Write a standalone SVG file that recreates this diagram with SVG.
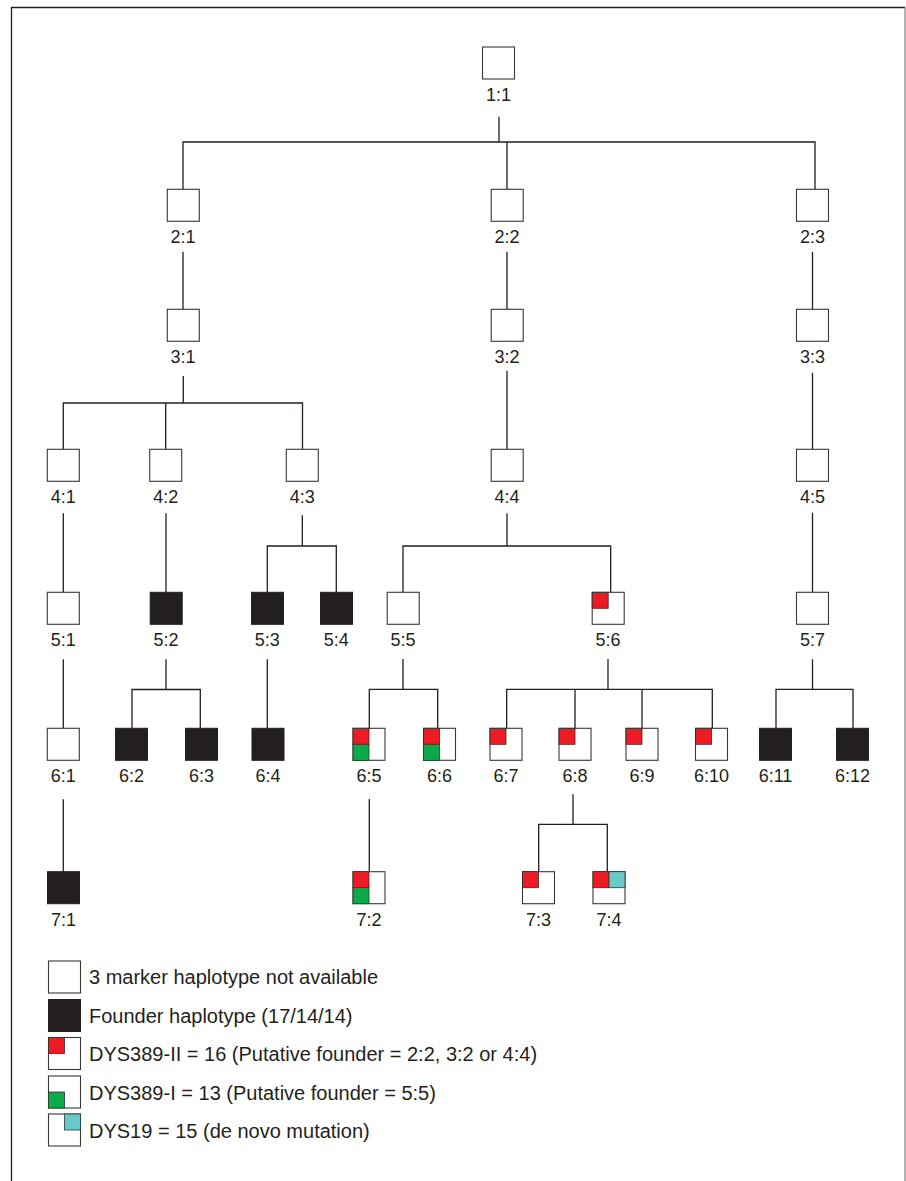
<svg xmlns="http://www.w3.org/2000/svg" width="906" height="1181" viewBox="0 0 906 1181">
<style>
.box{fill:#fff;stroke:#3a3738;stroke-width:1.1}
.blk{fill:#231f20;stroke:#231f20;stroke-width:1}
.red{fill:#ed1c24;stroke:#3a2a2a;stroke-width:0.8}
.grn{fill:#0bab4b;stroke:#2a3a2a;stroke-width:0.8}
.cyn{fill:#6ac9c8;stroke:#2a3a3a;stroke-width:0.8}
.lbl{font-family:"Liberation Sans",Arial,sans-serif;font-size:18px;fill:#231f20;text-anchor:middle}
.leg{font-family:"Liberation Sans",Arial,sans-serif;font-size:20px;fill:#231f20}
.con{fill:none;stroke:#231f20;stroke-width:1.3}
</style>
<rect width="906" height="1181" fill="#fff"/>
<g id="frame">
<path d="M11.5 1181V7.5H905" fill="none" stroke="#231f20" stroke-width="1.3"/>
<path d="M905 7.5V1181" fill="none" stroke="#8a8a8a" stroke-width="1.3"/>
</g>
<g id="connectors" class="con">
<path d="M499 116.7V142M183 189V142H815V189M507 142V189"/>
<path d="M183 251.7V309M507 251.7V309M812.5 251.7V309"/>
<path d="M183.3 376V403M63.3 449.3V403H302.5V449.3M165.7 403V449.3"/>
<path d="M507 370.7V449.3M812.5 372.7V449.3"/>
<path d="M63.3 513.3V592.3M166 513.3V592.3M302.3 515.3V546M267.3 592.3V546H336.3V592.3"/>
<path d="M507 513.3V546M403 592.3V546H610.7V592.3M812.5 512.7V592.3"/>
<path d="M63.3 659.3V728.3M166 659.3V689.5M132 728.3V689.5H200.3V728.3M267.3 659.3V728.3"/>
<path d="M403 659V689.3M369.3 728.3V689.3H437.7V728.3"/>
<path d="M608 659V689.3M506.7 728.3V689.3H712.3V728.3M575 689.3V728.3M642 689.3V728.3"/>
<path d="M812.5 659.3V689.3M776 728.3V689.3H853V728.3"/>
<path d="M63.3 799.3V871.7M369.3 799V871.7M573 794.3V824.3M538.7 871.7V824.3H607.3V871.7"/>
</g>
<g id="n1_1"><rect class="box" x="482.5" y="47" width="32" height="32"/><text class="lbl" x="498.5" y="101.4">1:1</text></g>
<g id="n2_1"><rect class="box" x="167.3" y="189.3" width="32" height="32"/><text class="lbl" x="183" y="243">2:1</text></g>
<g id="n2_2"><rect class="box" x="491.2" y="189.3" width="32" height="32"/><text class="lbl" x="507" y="243">2:2</text></g>
<g id="n2_3"><rect class="box" x="796.5" y="189.3" width="32" height="32"/><text class="lbl" x="812.5" y="243">2:3</text></g>
<g id="n3_1"><rect class="box" x="167.3" y="309.3" width="32" height="32"/><text class="lbl" x="183" y="363">3:1</text></g>
<g id="n3_2"><rect class="box" x="491.2" y="309.3" width="32" height="32"/><text class="lbl" x="507" y="363">3:2</text></g>
<g id="n3_3"><rect class="box" x="796.5" y="309.3" width="32" height="32"/><text class="lbl" x="812.5" y="363">3:3</text></g>
<g id="n4_1"><rect class="box" x="47.3" y="449.3" width="32" height="32"/><text class="lbl" x="63.3" y="503">4:1</text></g>
<g id="n4_2"><rect class="box" x="149.7" y="449.3" width="32" height="32"/><text class="lbl" x="165.7" y="503">4:2</text></g>
<g id="n4_3"><rect class="box" x="286.3" y="449.3" width="32" height="32"/><text class="lbl" x="302.3" y="503">4:3</text></g>
<g id="n4_4"><rect class="box" x="491.2" y="449.3" width="32" height="32"/><text class="lbl" x="507" y="503">4:4</text></g>
<g id="n4_5"><rect class="box" x="796.5" y="449.3" width="32" height="32"/><text class="lbl" x="812.5" y="503">4:5</text></g>
<g id="n5_1"><rect class="box" x="47.3" y="592.3" width="32" height="32"/><text class="lbl" x="63.3" y="646.4">5:1</text></g>
<g id="n5_2"><rect class="blk" x="150.2" y="592.3" width="32" height="32"/><text class="lbl" x="166" y="646.4">5:2</text></g>
<g id="n5_3"><rect class="blk" x="251.5" y="592.3" width="32" height="32"/><text class="lbl" x="267.3" y="646.4">5:3</text></g>
<g id="n5_4"><rect class="blk" x="320.5" y="592.3" width="32" height="32"/><text class="lbl" x="336.3" y="646.4">5:4</text></g>
<g id="n5_5"><rect class="box" x="387.2" y="592.3" width="32" height="32"/><text class="lbl" x="403" y="646.4">5:5</text></g>
<g id="n5_6"><rect class="box" x="592.2" y="592.3" width="32" height="32"/><rect class="red" x="592.2" y="592.3" width="16" height="16"/><text class="lbl" x="608" y="646.4">5:6</text></g>
<g id="n5_7"><rect class="box" x="796.5" y="592.3" width="32" height="32"/><text class="lbl" x="812.5" y="646.4">5:7</text></g>
<g id="n6_1"><rect class="box" x="47.3" y="728.3" width="32" height="32"/><text class="lbl" x="63.3" y="782">6:1</text></g>
<g id="n6_2"><rect class="blk" x="115.5" y="728.3" width="32" height="32"/><text class="lbl" x="131.5" y="782">6:2</text></g>
<g id="n6_3"><rect class="blk" x="185.5" y="728.3" width="32" height="32"/><text class="lbl" x="201.5" y="782">6:3</text></g>
<g id="n6_4"><rect class="blk" x="252" y="728.3" width="32" height="32"/><text class="lbl" x="268" y="782">6:4</text></g>
<g id="n6_5"><rect class="box" x="353" y="728.3" width="32" height="32"/><rect class="red" x="353" y="728.3" width="16" height="16"/><rect class="grn" x="353" y="744.3" width="16" height="16"/><text class="lbl" x="369" y="782">6:5</text></g>
<g id="n6_6"><rect class="box" x="423.5" y="728.3" width="32" height="32"/><rect class="red" x="423.5" y="728.3" width="16" height="16"/><rect class="grn" x="423.5" y="744.3" width="16" height="16"/><text class="lbl" x="439.5" y="782">6:6</text></g>
<g id="n6_7"><rect class="box" x="490" y="728.3" width="32" height="32"/><rect class="red" x="490" y="728.3" width="16" height="16"/><text class="lbl" x="506" y="782">6:7</text></g>
<g id="n6_8"><rect class="box" x="559" y="728.3" width="32" height="32"/><rect class="red" x="559" y="728.3" width="16" height="16"/><text class="lbl" x="575" y="782">6:8</text></g>
<g id="n6_9"><rect class="box" x="626" y="728.3" width="32" height="32"/><rect class="red" x="626" y="728.3" width="16" height="16"/><text class="lbl" x="642" y="782">6:9</text></g>
<g id="n6_10"><rect class="box" x="695.5" y="728.3" width="32" height="32"/><rect class="red" x="695.5" y="728.3" width="16" height="16"/><text class="lbl" x="711.5" y="782">6:10</text></g>
<g id="n6_11"><rect class="blk" x="759.5" y="728.3" width="32" height="32"/><text class="lbl" x="775.5" y="782">6:11</text></g>
<g id="n6_12"><rect class="blk" x="836.5" y="728.3" width="32" height="32"/><text class="lbl" x="852.5" y="782">6:12</text></g>
<g id="n7_1"><rect class="blk" x="47.5" y="871.7" width="32" height="32"/><text class="lbl" x="63.5" y="925.7">7:1</text></g>
<g id="n7_2"><rect class="box" x="353" y="871.7" width="32" height="32"/><rect class="red" x="353" y="871.7" width="16" height="16"/><rect class="grn" x="353" y="887.7" width="16" height="16"/><text class="lbl" x="369" y="925.7">7:2</text></g>
<g id="n7_3"><rect class="box" x="522.5" y="871.7" width="32" height="32"/><rect class="red" x="522.5" y="871.7" width="16" height="16"/><text class="lbl" x="538.5" y="925.7">7:3</text></g>
<g id="n7_4"><rect class="box" x="593" y="871.7" width="32" height="32"/><rect class="red" x="593" y="871.7" width="16" height="16"/><rect class="cyn" x="609" y="871.7" width="16" height="16"/><text class="lbl" x="609" y="925.7">7:4</text></g>
<g id="legend">
<rect class="box" x="48.5" y="961" width="32" height="32"/><text class="leg" x="89" y="984">3 marker haplotype not available</text>
<rect class="blk" x="48.5" y="999.5" width="32" height="32"/><text class="leg" x="89" y="1023">Founder haplotype (17/14/14)</text>
<rect class="box" x="48.5" y="1037.5" width="32" height="32"/><rect class="red" x="48.5" y="1037.5" width="16" height="16"/><text class="leg" x="89" y="1061">DYS389-II = 16 (Putative founder = 2:2, 3:2 or 4:4)</text>
<rect class="box" x="48.5" y="1076" width="32" height="32"/><rect class="grn" x="48.5" y="1092" width="16" height="16"/><text class="leg" x="89" y="1099.5">DYS389-I = 13 (Putative founder = 5:5)</text>
<rect class="box" x="48.5" y="1114" width="32" height="32"/><rect class="cyn" x="64.5" y="1114" width="16" height="16"/><text class="leg" x="89" y="1138">DYS19 = 15 (de novo mutation)</text>
</g>
</svg>
